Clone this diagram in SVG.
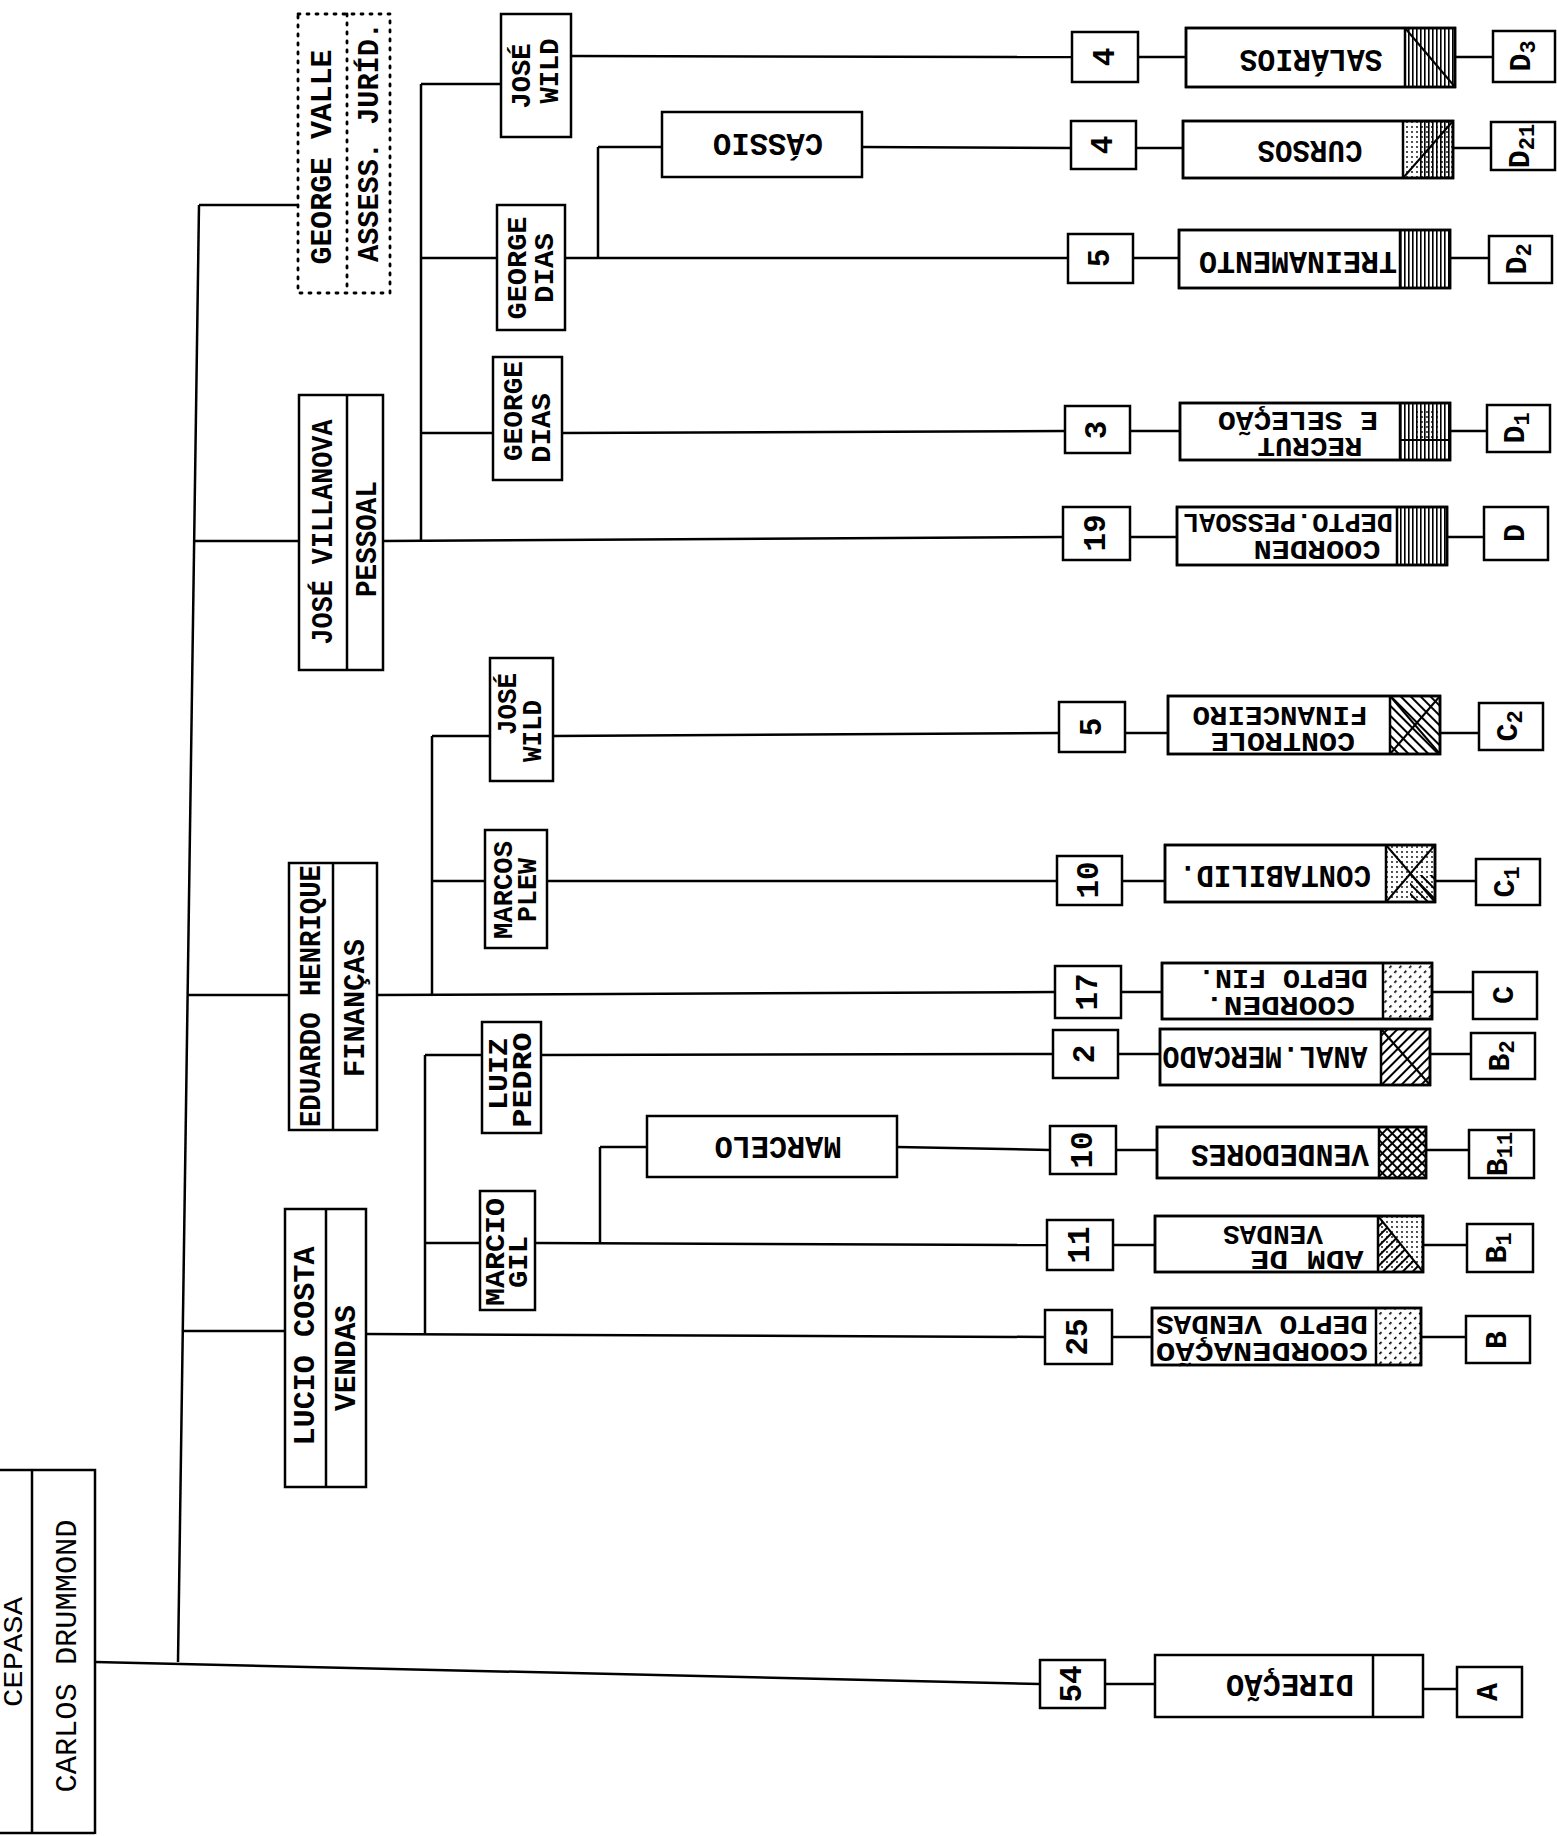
<svg xmlns="http://www.w3.org/2000/svg" width="1557" height="1836" viewBox="0 0 1557 1836">
<style>
.b{fill:#fff;stroke:#000;stroke-width:2.5}
.o{fill:none;stroke:#000;stroke-width:2.5}
.d{fill:none;stroke:#000;stroke-width:2.8;stroke-dasharray:2 7;stroke-linecap:round}
.h{stroke:#000;stroke-width:2}
#connectors line{stroke:#000;stroke-width:2.5}
.t{font-family:"Liberation Mono","DejaVu Sans Mono",monospace;font-weight:bold;fill:#000;text-anchor:middle;dominant-baseline:central}
.n{font-weight:normal}
.f20{font-size:22px}.f24{font-size:27px}.f26{font-size:30px}.f28{font-size:31px}
</style>
<defs>
<pattern id="pv" width="4" height="10" patternUnits="userSpaceOnUse"><rect x="0" y="0" width="1.6" height="10" fill="#000"/></pattern>
<pattern id="pd1" width="7" height="7" patternUnits="userSpaceOnUse" patternTransform="rotate(45)"><rect width="2" height="7" fill="#000"/></pattern>
<pattern id="pd2" width="7" height="7" patternUnits="userSpaceOnUse" patternTransform="rotate(-45)"><rect width="2" height="7" fill="#000"/></pattern>
<pattern id="pdd" width="7" height="7" patternUnits="userSpaceOnUse" patternTransform="rotate(45)"><rect width="1.6" height="3" fill="#000"/></pattern>
<pattern id="pdot" width="5" height="5" patternUnits="userSpaceOnUse"><circle cx="2" cy="2" r="0.9" fill="#000"/></pattern>
</defs>
<rect width="1557" height="1836" fill="#fff"/>

<g id="connectors">
<line x1="199" y1="205" x2="178" y2="1662"/>
<line x1="199" y1="205" x2="298" y2="205"/>
<line x1="194" y1="541" x2="299" y2="541"/>
<line x1="188" y1="995" x2="289" y2="995"/>
<line x1="183" y1="1331" x2="285" y2="1331"/>
<line x1="95" y1="1662" x2="1040" y2="1684"/>
<line x1="383" y1="541" x2="1063" y2="537"/>
<line x1="421" y1="84" x2="421" y2="541"/>
<line x1="421" y1="84" x2="501" y2="84"/>
<line x1="421" y1="258" x2="497" y2="258"/>
<line x1="421" y1="433" x2="493" y2="433"/>
<line x1="571" y1="56" x2="1072" y2="57"/>
<line x1="565" y1="258" x2="1068" y2="258"/>
<line x1="598" y1="258" x2="598" y2="147"/>
<line x1="598" y1="147" x2="662" y2="147"/>
<line x1="862" y1="147" x2="1071" y2="148"/>
<line x1="562" y1="433" x2="1065" y2="431"/>
<line x1="377" y1="995" x2="1055" y2="992"/>
<line x1="432" y1="736" x2="432" y2="995"/>
<line x1="432" y1="736" x2="490" y2="736"/>
<line x1="432" y1="881" x2="485" y2="881"/>
<line x1="553" y1="736" x2="1059" y2="733"/>
<line x1="547" y1="881" x2="1057" y2="881"/>
<line x1="366" y1="1334" x2="1045" y2="1337"/>
<line x1="425" y1="1055" x2="425" y2="1334"/>
<line x1="425" y1="1055" x2="482" y2="1055"/>
<line x1="425" y1="1243" x2="480" y2="1243"/>
<line x1="541" y1="1055" x2="1053" y2="1054"/>
<line x1="535" y1="1243" x2="1047" y2="1245"/>
<line x1="600" y1="1243" x2="600" y2="1147"/>
<line x1="600" y1="1147" x2="647" y2="1147"/>
<line x1="897" y1="1147" x2="1050" y2="1150"/>
<line x1="1138" y1="57" x2="1186" y2="57"/><line x1="1455" y1="57" x2="1493" y2="57"/>
<line x1="1136" y1="148" x2="1183" y2="148"/><line x1="1453" y1="148" x2="1491" y2="148"/>
<line x1="1133" y1="258" x2="1179" y2="258"/><line x1="1450" y1="258" x2="1489" y2="258"/>
<line x1="1130" y1="431" x2="1180" y2="431"/><line x1="1450" y1="431" x2="1487" y2="431"/>
<line x1="1130" y1="537" x2="1177" y2="537"/><line x1="1447" y1="537" x2="1484" y2="537"/>
<line x1="1125" y1="733" x2="1168" y2="733"/><line x1="1440" y1="733" x2="1479" y2="733"/>
<line x1="1122" y1="881" x2="1165" y2="881"/><line x1="1435" y1="881" x2="1476" y2="881"/>
<line x1="1121" y1="992" x2="1162" y2="992"/><line x1="1432" y1="992" x2="1473" y2="992"/>
<line x1="1118" y1="1054" x2="1160" y2="1054"/><line x1="1430" y1="1054" x2="1471" y2="1054"/>
<line x1="1116" y1="1150" x2="1157" y2="1150"/><line x1="1426" y1="1150" x2="1469" y2="1150"/>
<line x1="1113" y1="1245" x2="1155" y2="1245"/><line x1="1423" y1="1245" x2="1467" y2="1245"/>
<line x1="1112" y1="1337" x2="1152" y2="1337"/><line x1="1421" y1="1337" x2="1466" y2="1337"/>
<line x1="1105" y1="1684" x2="1155" y2="1684"/><line x1="1423" y1="1689" x2="1457" y2="1689"/>
</g>

<g id="carlos">
<path class="o" d="M0 1470 H95 V1834 M32 1470 V1834 M0 1833 H95"/>
<text class="t n f24" transform="translate(15 1652) rotate(-90)" textLength="110" lengthAdjust="spacingAndGlyphs">CEPASA</text>
<text class="t n f26" transform="translate(68 1656) rotate(-90)" textLength="273" lengthAdjust="spacingAndGlyphs">CARLOS DRUMMOND</text>
</g>
<g id="george-valle">
<rect class="d" x="298" y="14" width="92" height="279"/>
<line class="d" x1="347" y1="14" x2="347" y2="293"/>
<text class="t f26" transform="translate(323 157) rotate(-90)" textLength="215" lengthAdjust="spacingAndGlyphs">GEORGE VALLE</text>
<text class="t f26" transform="translate(370 142) rotate(-90)" textLength="240" lengthAdjust="spacingAndGlyphs">ASSESS. JURÍD.</text>
</g>
<g id="jose-villanova">
<rect class="b" x="299" y="395" width="84" height="275"/>
<line class="o" x1="347" y1="395" x2="347" y2="670"/>
<text class="t f26" transform="translate(324 532) rotate(-90)" textLength="225" lengthAdjust="spacingAndGlyphs">JOSÉ VILLANOVA</text>
<text class="t f26" transform="translate(368 539) rotate(-90)" textLength="116" lengthAdjust="spacingAndGlyphs">PESSOAL</text>
</g>
<g id="eduardo-henrique">
<rect class="b" x="289" y="863" width="88" height="267"/>
<line class="o" x1="333" y1="863" x2="333" y2="1130"/>
<text class="t f26" transform="translate(312 996) rotate(-90)" textLength="262" lengthAdjust="spacingAndGlyphs">EDUARDO HENRIQUE</text>
<text class="t f26" transform="translate(356 1008) rotate(-90)" textLength="138" lengthAdjust="spacingAndGlyphs">FINANÇAS</text>
</g>
<g id="lucio-costa">
<rect class="b" x="285" y="1209" width="81" height="278"/>
<line class="o" x1="326" y1="1209" x2="326" y2="1487"/>
<text class="t f26" transform="translate(306 1346) rotate(-90)" textLength="199" lengthAdjust="spacingAndGlyphs">LUCIO COSTA</text>
<text class="t f26" transform="translate(347 1358) rotate(-90)" textLength="106" lengthAdjust="spacingAndGlyphs">VENDAS</text>
</g>

<g id="jose-wild-p">
<rect class="b" x="501" y="14" width="70" height="123"/>
<text class="t f24" transform="translate(523 76) rotate(-90)" textLength="65" lengthAdjust="spacingAndGlyphs">JOSÉ</text>
<text class="t f24" transform="translate(551 71) rotate(-90)" textLength="65" lengthAdjust="spacingAndGlyphs">WILD</text>
</g>
<g id="george-dias-1">
<rect class="b" x="497" y="205" width="68" height="125"/>
<text class="t f24" transform="translate(519 268) rotate(-90)" textLength="103" lengthAdjust="spacingAndGlyphs">GEORGE</text>
<text class="t f24" transform="translate(546 268) rotate(-90)" textLength="70" lengthAdjust="spacingAndGlyphs">DIAS</text>
</g>
<g id="george-dias-2">
<rect class="b" x="493" y="357" width="69" height="123"/>
<text class="t f24" transform="translate(515 411) rotate(-90)" textLength="100" lengthAdjust="spacingAndGlyphs">GEORGE</text>
<text class="t f24" transform="translate(543 428) rotate(-90)" textLength="70" lengthAdjust="spacingAndGlyphs">DIAS</text>
</g>
<g id="cassio">
<rect class="b" x="662" y="112" width="200" height="65"/>
<text class="t f28" transform="translate(768 142) rotate(180)" textLength="110" lengthAdjust="spacingAndGlyphs">CÁSSIO</text>
</g>
<g id="jose-wild-f">
<rect class="b" x="490" y="658" width="63" height="123"/>
<text class="t f24" transform="translate(509 704) rotate(-90)" textLength="62" lengthAdjust="spacingAndGlyphs">JOSÉ</text>
<text class="t f24" transform="translate(534 731) rotate(-90)" textLength="62" lengthAdjust="spacingAndGlyphs">WILD</text>
</g>
<g id="marcos-plew">
<rect class="b" x="485" y="830" width="62" height="118"/>
<text class="t f24" transform="translate(505 890) rotate(-90)" textLength="98" lengthAdjust="spacingAndGlyphs">MARCOS</text>
<text class="t f24" transform="translate(529 890) rotate(-90)" textLength="64" lengthAdjust="spacingAndGlyphs">PLEW</text>
</g>
<g id="luiz-pedro">
<rect class="b" x="482" y="1022" width="59" height="111"/>
<text class="t f24" transform="translate(500 1074) rotate(-90)" textLength="72" lengthAdjust="spacingAndGlyphs">LUIZ</text>
<text class="t f24" transform="translate(524 1080) rotate(-90)" textLength="95" lengthAdjust="spacingAndGlyphs">PEDRO</text>
</g>
<g id="marcio-gil">
<rect class="b" x="480" y="1191" width="55" height="119"/>
<text class="t f24" transform="translate(497 1252) rotate(-90)" textLength="108" lengthAdjust="spacingAndGlyphs">MARCIO</text>
<text class="t f24" transform="translate(520 1262) rotate(-90)" textLength="52" lengthAdjust="spacingAndGlyphs">GIL</text>
</g>
<g id="marcelo">
<rect class="b" x="647" y="1116" width="250" height="61"/>
<text class="t f28" transform="translate(778 1145) rotate(180)" textLength="127" lengthAdjust="spacingAndGlyphs">MARCELO</text>
</g>

<g id="num-salarios"><rect class="b" x="1072" y="32" width="66" height="50"/><text class="t f28" transform="translate(1105 57) rotate(-90)">4</text></g>
<g id="salarios">
<rect class="b" x="1186" y="28" width="269" height="59"/>
<rect x="1405" y="28" width="50" height="59" fill="url(#pv)"/>
<line class="h" x1="1405" y1="28" x2="1455" y2="87"/>
<rect class="o" x="1186" y="28" width="269" height="59"/><line class="o" x1="1405" y1="28" x2="1405" y2="87"/>
<text class="t f28" transform="translate(1311 58) rotate(180)" textLength="143" lengthAdjust="spacingAndGlyphs">SALÁRIOS</text>
</g>
<g id="code-d3"><rect class="b" x="1493" y="31" width="62" height="51"/><text class="t f26" transform="translate(1522 56) rotate(-90)">D<tspan class="f20" dy="7">3</tspan></text></g>

<g id="num-cursos"><rect class="b" x="1071" y="121" width="65" height="48"/><text class="t f28" transform="translate(1103 145) rotate(-90)">4</text></g>
<g id="cursos">
<rect class="b" x="1183" y="121" width="270" height="57"/>
<rect x="1403" y="121" width="50" height="57" fill="url(#pdot)"/>
<rect x="1420" y="121" width="33" height="57" fill="url(#pv)"/>
<line class="h" x1="1403" y1="178" x2="1453" y2="121"/>
<rect class="o" x="1183" y="121" width="270" height="57"/><line class="o" x1="1403" y1="121" x2="1403" y2="178"/>
<text class="t f28" transform="translate(1310 149) rotate(180)" textLength="105" lengthAdjust="spacingAndGlyphs">CURSOS</text>
</g>
<g id="code-d21"><rect class="b" x="1491" y="122" width="64" height="48"/><text class="t f26" transform="translate(1521 146) rotate(-90)">D<tspan class="f20" dy="7">21</tspan></text></g>

<g id="num-treinamento"><rect class="b" x="1068" y="234" width="65" height="49"/><text class="t f28" transform="translate(1100 258) rotate(-90)">5</text></g>
<g id="treinamento">
<rect class="b" x="1179" y="230" width="271" height="58"/>
<rect x="1400" y="230" width="50" height="58" fill="url(#pv)"/>
<rect class="o" x="1179" y="230" width="271" height="58"/><line class="o" x1="1400" y1="230" x2="1400" y2="288"/>
<text class="t f28" transform="translate(1298 260) rotate(180)" textLength="198" lengthAdjust="spacingAndGlyphs">TREINAMENTO</text>
</g>
<g id="code-d2"><rect class="b" x="1489" y="236" width="63" height="47"/><text class="t f26" transform="translate(1518 259) rotate(-90)">D<tspan class="f20" dy="7">2</tspan></text></g>

<g id="num-recrut"><rect class="b" x="1065" y="406" width="65" height="47"/><text class="t f28" transform="translate(1097 430) rotate(-90)">3</text></g>
<g id="recrut">
<rect class="b" x="1180" y="403" width="270" height="57"/>
<rect x="1400" y="403" width="50" height="57" fill="url(#pv)"/>
<rect x="1412" y="408" width="26" height="30" fill="url(#pdot)"/>
<line class="h" x1="1400" y1="440" x2="1450" y2="440"/>
<rect class="o" x="1180" y="403" width="270" height="57"/><line class="o" x1="1400" y1="403" x2="1400" y2="460"/>
<text class="t f24" transform="translate(1298 419) rotate(180)" textLength="160" lengthAdjust="spacingAndGlyphs">E SELEÇÃO</text>
<text class="t f24" transform="translate(1310 445) rotate(180)" textLength="105" lengthAdjust="spacingAndGlyphs">RECRUT</text>
</g>
<g id="code-d1"><rect class="b" x="1487" y="405" width="63" height="47"/><text class="t f26" transform="translate(1516 428) rotate(-90)">D<tspan class="f20" dy="7">1</tspan></text></g>

<g id="num-coorden-pessoal"><rect class="b" x="1063" y="507" width="67" height="53"/><text class="t f28" transform="translate(1096 533) rotate(-90)">19</text></g>
<g id="coorden-pessoal">
<rect class="b" x="1177" y="507" width="270" height="58"/>
<rect x="1397" y="507" width="50" height="58" fill="url(#pv)"/>
<rect class="o" x="1177" y="507" width="270" height="58"/><line class="o" x1="1397" y1="507" x2="1397" y2="565"/>
<text class="t f24" transform="translate(1288 521) rotate(180)" textLength="210" lengthAdjust="spacingAndGlyphs">DEPTO.PESSOAL</text>
<text class="t f24" transform="translate(1317 548) rotate(180)" textLength="127" lengthAdjust="spacingAndGlyphs">COORDEN</text>
</g>
<g id="code-d"><rect class="b" x="1484" y="507" width="64" height="53"/><text class="t f26" transform="translate(1516 533) rotate(-90)">D</text></g>

<g id="num-controle"><rect class="b" x="1059" y="702" width="66" height="50"/><text class="t f28" transform="translate(1092 727) rotate(-90)">5</text></g>
<g id="controle">
<rect class="b" x="1168" y="696" width="272" height="58"/>
<rect x="1390" y="696" width="50" height="58" fill="url(#pd2)"/>
<line class="h" x1="1390" y1="754" x2="1440" y2="696"/>
<line class="h" x1="1390" y1="696" x2="1440" y2="754"/>
<rect class="o" x="1168" y="696" width="272" height="58"/><line class="o" x1="1390" y1="696" x2="1390" y2="754"/>
<text class="t f24" transform="translate(1280 714) rotate(180)" textLength="175" lengthAdjust="spacingAndGlyphs">FINANCEIRO</text>
<text class="t f24" transform="translate(1283 740) rotate(180)" textLength="144" lengthAdjust="spacingAndGlyphs">CONTROLE</text>
</g>
<g id="code-c2"><rect class="b" x="1479" y="703" width="64" height="47"/><text class="t f26" transform="translate(1509 726) rotate(-90)">C<tspan class="f20" dy="7">2</tspan></text></g>

<g id="num-contabilid"><rect class="b" x="1057" y="856" width="65" height="49"/><text class="t f28" transform="translate(1089 880) rotate(-90)">10</text></g>
<g id="contabilid">
<rect class="b" x="1165" y="845" width="270" height="57"/>
<rect x="1386" y="845" width="49" height="57" fill="url(#pdot)"/>
<rect x="1410" y="875" width="25" height="27" fill="url(#pd2)"/>
<line class="h" x1="1386" y1="902" x2="1435" y2="845"/>
<line class="h" x1="1386" y1="845" x2="1435" y2="902"/>
<rect class="o" x="1165" y="845" width="270" height="57"/><line class="o" x1="1386" y1="845" x2="1386" y2="902"/>
<text class="t f28" transform="translate(1275 874) rotate(180)" textLength="192" lengthAdjust="spacingAndGlyphs">CONTABILID.</text>
</g>
<g id="code-c1"><rect class="b" x="1476" y="859" width="64" height="46"/><text class="t f26" transform="translate(1506 882) rotate(-90)">C<tspan class="f20" dy="7">1</tspan></text></g>

<g id="num-coorden-fin"><rect class="b" x="1055" y="966" width="66" height="52"/><text class="t f28" transform="translate(1088 992) rotate(-90)">17</text></g>
<g id="coorden-fin">
<rect class="b" x="1162" y="963" width="270" height="56"/>
<rect x="1383" y="963" width="49" height="56" fill="url(#pdd)"/>
<rect class="o" x="1162" y="963" width="270" height="56"/><line class="o" x1="1383" y1="963" x2="1383" y2="1019"/>
<text class="t f24" transform="translate(1283 977) rotate(180)" textLength="170" lengthAdjust="spacingAndGlyphs">DEPTO FIN.</text>
<text class="t f24" transform="translate(1280 1004) rotate(180)" textLength="150" lengthAdjust="spacingAndGlyphs">COORDEN.</text>
</g>
<g id="code-c"><rect class="b" x="1473" y="972" width="64" height="47"/><text class="t f26" transform="translate(1505 995) rotate(-90)">C</text></g>

<g id="num-anal-mercado"><rect class="b" x="1053" y="1030" width="65" height="48"/><text class="t f28" transform="translate(1085 1054) rotate(-90)">2</text></g>
<g id="anal-mercado">
<rect class="b" x="1160" y="1029" width="270" height="56"/>
<rect x="1381" y="1029" width="49" height="56" fill="url(#pd1)"/>
<line class="h" x1="1381" y1="1029" x2="1430" y2="1085"/>
<rect class="o" x="1160" y="1029" width="270" height="56"/><line class="o" x1="1381" y1="1029" x2="1381" y2="1085"/>
<text class="t f28" transform="translate(1265 1055) rotate(180)" textLength="205" lengthAdjust="spacingAndGlyphs">ANAL.MERCADO</text>
</g>
<g id="code-b2"><rect class="b" x="1471" y="1033" width="64" height="46"/><text class="t f26" transform="translate(1501 1056) rotate(-90)">B<tspan class="f20" dy="7">2</tspan></text></g>

<g id="num-vendedores"><rect class="b" x="1050" y="1126" width="66" height="48"/><text class="t f28" transform="translate(1083 1150) rotate(-90)">10</text></g>
<g id="vendedores">
<rect class="b" x="1157" y="1127" width="269" height="51"/>
<rect x="1379" y="1127" width="47" height="51" fill="url(#pd1)"/>
<rect x="1379" y="1127" width="47" height="51" fill="url(#pd2)"/>
<rect class="o" x="1157" y="1127" width="269" height="51"/><line class="o" x1="1379" y1="1127" x2="1379" y2="1178"/>
<text class="t f28" transform="translate(1280 1153) rotate(180)" textLength="178" lengthAdjust="spacingAndGlyphs">VENDEDORES</text>
</g>
<g id="code-b11"><rect class="b" x="1469" y="1130" width="65" height="48"/><text class="t f26" transform="translate(1499 1154) rotate(-90)">B<tspan class="f20" dy="7">11</tspan></text></g>

<g id="num-adm-vendas"><rect class="b" x="1047" y="1220" width="66" height="50"/><text class="t f28" transform="translate(1080 1245) rotate(-90)">11</text></g>
<g id="adm-vendas">
<rect class="b" x="1155" y="1216" width="268" height="56"/>
<rect x="1378" y="1216" width="45" height="56" fill="url(#pdot)"/>
<path d="M1378 1216 L1378 1272 L1423 1272 Z" fill="url(#pd1)"/>
<line class="h" x1="1378" y1="1216" x2="1423" y2="1272"/>
<rect class="o" x="1155" y="1216" width="268" height="56"/><line class="o" x1="1378" y1="1216" x2="1378" y2="1272"/>
<text class="t f24" transform="translate(1273 1233) rotate(180)" textLength="100" lengthAdjust="spacingAndGlyphs">VENDAS</text>
<text class="t f24" transform="translate(1307 1258) rotate(180)" textLength="113" lengthAdjust="spacingAndGlyphs">ADM  DE</text>
</g>
<g id="code-b1"><rect class="b" x="1467" y="1224" width="66" height="48"/><text class="t f26" transform="translate(1498 1248) rotate(-90)">B<tspan class="f20" dy="7">1</tspan></text></g>

<g id="num-coordenacao-vendas"><rect class="b" x="1045" y="1310" width="67" height="54"/><text class="t f28" transform="translate(1078 1337) rotate(-90)">25</text></g>
<g id="coordenacao-vendas">
<rect class="b" x="1152" y="1308" width="269" height="57"/>
<rect x="1376" y="1308" width="45" height="57" fill="url(#pdd)"/>
<rect class="o" x="1152" y="1308" width="269" height="57"/><line class="o" x1="1376" y1="1308" x2="1376" y2="1365"/>
<text class="t f24" transform="translate(1262 1323) rotate(180)" textLength="212" lengthAdjust="spacingAndGlyphs">DEPTO VENDAS</text>
<text class="t f24" transform="translate(1262 1350) rotate(180)" textLength="212" lengthAdjust="spacingAndGlyphs">COORDENAÇÃO</text>
</g>
<g id="code-b"><rect class="b" x="1466" y="1316" width="64" height="47"/><text class="t f26" transform="translate(1498 1340) rotate(-90)">B</text></g>

<g id="num-direcao"><rect class="b" x="1040" y="1660" width="65" height="48"/><text class="t f28" transform="translate(1072 1684) rotate(-90)">54</text></g>
<g id="direcao">
<rect class="b" x="1155" y="1655" width="268" height="62"/>
<line class="o" x1="1373" y1="1655" x2="1373" y2="1717"/>
<text class="t f28" transform="translate(1290 1683) rotate(180)" textLength="128" lengthAdjust="spacingAndGlyphs">DIREÇÃO</text>
</g>
<g id="code-a"><rect class="b" x="1457" y="1667" width="65" height="50"/><text class="t f26" transform="translate(1489 1692) rotate(-90)">A</text></g>
</svg>
